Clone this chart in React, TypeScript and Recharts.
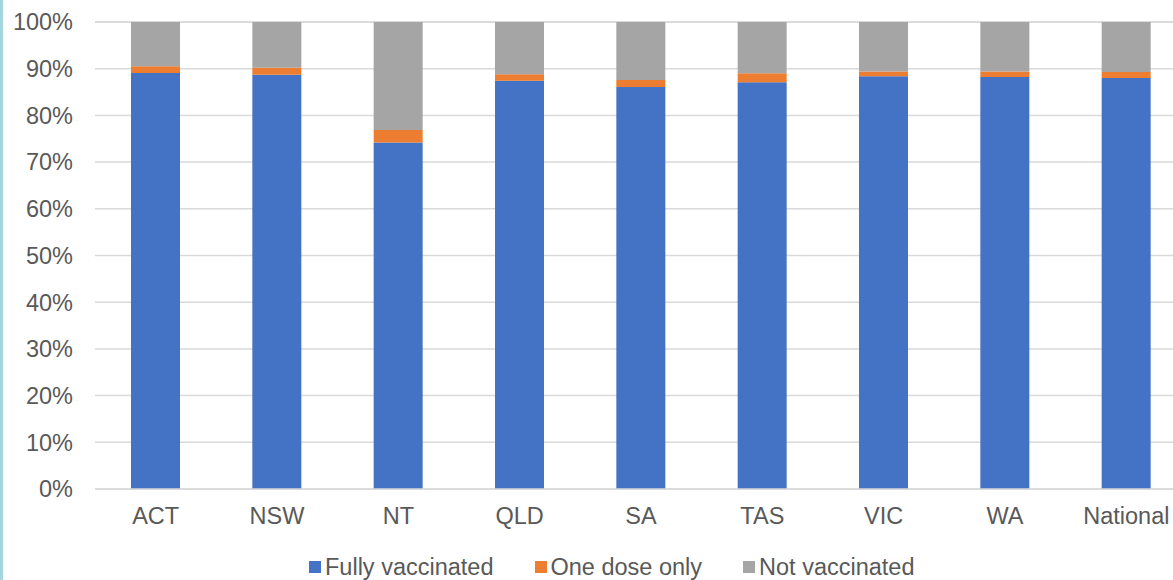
import React from 'react';
import { BarChart, Bar, XAxis, YAxis, CartesianGrid, Legend } from 'recharts';

const categories = ['ACT', 'NSW', 'NT', 'QLD', 'SA', 'TAS', 'VIC', 'WA', 'National'];
const fullyVaccinated = [89.1, 88.7, 74.2, 87.4, 86.1, 87.1, 88.4, 88.2, 88.0];
const oneDoseOnly = [1.4, 1.5, 2.7, 1.4, 1.5, 1.9, 1.0, 1.2, 1.3];
const notVaccinated = [9.5, 9.8, 23.1, 11.2, 12.4, 11.0, 10.6, 10.6, 10.7];
const yTicks = [0, 10, 20, 30, 40, 50, 60, 70, 80, 90, 100];

const seriesInfo = [
  { key: 'fully', name: 'Fully vaccinated', color: '#4472C4' },
  { key: 'one', name: 'One dose only', color: '#ED7D31' },
  { key: 'not', name: 'Not vaccinated', color: '#A5A5A5' },
];

const data = categories.map((c, i) => ({
  name: c,
  fully: fullyVaccinated[i],
  one: oneDoseOnly[i],
  not: notVaccinated[i],
}));

const FONT = '"Liberation Sans", Arial, sans-serif';
const TEXT = '#595959';

const LegendContent = () => (
  <div style={{ display: 'flex', alignItems: 'center', height: 26, fontFamily: FONT, fontSize: 23.5, color: TEXT, whiteSpace: 'nowrap' }}>
    {seriesInfo.map((s, i) => (
      <div key={s.key} style={{ display: 'flex', alignItems: 'center', marginRight: i < 2 ? 41 : 0 }}>
        <div style={{ width: 12, height: 12, background: s.color, marginRight: 4 }} />
        <span>{s.name}</span>
      </div>
    ))}
  </div>
);

export default function App() {
  return (
    <div style={{ position: 'absolute', left: 0, top: 0, width: 1173, height: 580, overflow: 'hidden', background: '#fff' }}>
      <div style={{ position: 'absolute', left: 0, top: 0, width: 3, height: 580, background: '#A3D6DD' }} />
      <BarChart
        width={1187}
        height={580}
        data={data}
        margin={{ top: 22, right: 0, bottom: 0, left: 0 }}
        barSize={49}
        style={{ fontFamily: FONT }}
      >
        <CartesianGrid vertical={false} stroke="#D9D9D9" strokeWidth={1.5} />
        <XAxis
          dataKey="name"
          height={65}
          tickLine={false}
          tickSize={0}
          tickMargin={18}
          axisLine={{ stroke: '#D9D9D9', strokeWidth: 1.5 }}
          tick={{ fill: TEXT, fontSize: 23.5, fontFamily: FONT }}
          interval={0}
        />
        <YAxis
          width={95}
          domain={[0, 100]}
          ticks={yTicks}
          tickFormatter={(v: number) => `${v}%`}
          axisLine={false}
          tickLine={false}
          tickSize={0}
          tickMargin={22}
          tick={{ fill: TEXT, fontSize: 23.5, fontFamily: FONT }}
          interval={0}
        />
        <Legend
          verticalAlign="bottom"
          content={<LegendContent />}
          wrapperStyle={{ left: 309, width: 620, height: 26 }}
        />
        {seriesInfo.map((s) => (
          <Bar key={s.key} dataKey={s.key} name={s.name} stackId="a" fill={s.color} isAnimationActive={false} />
        ))}
      </BarChart>
    </div>
  );
}
